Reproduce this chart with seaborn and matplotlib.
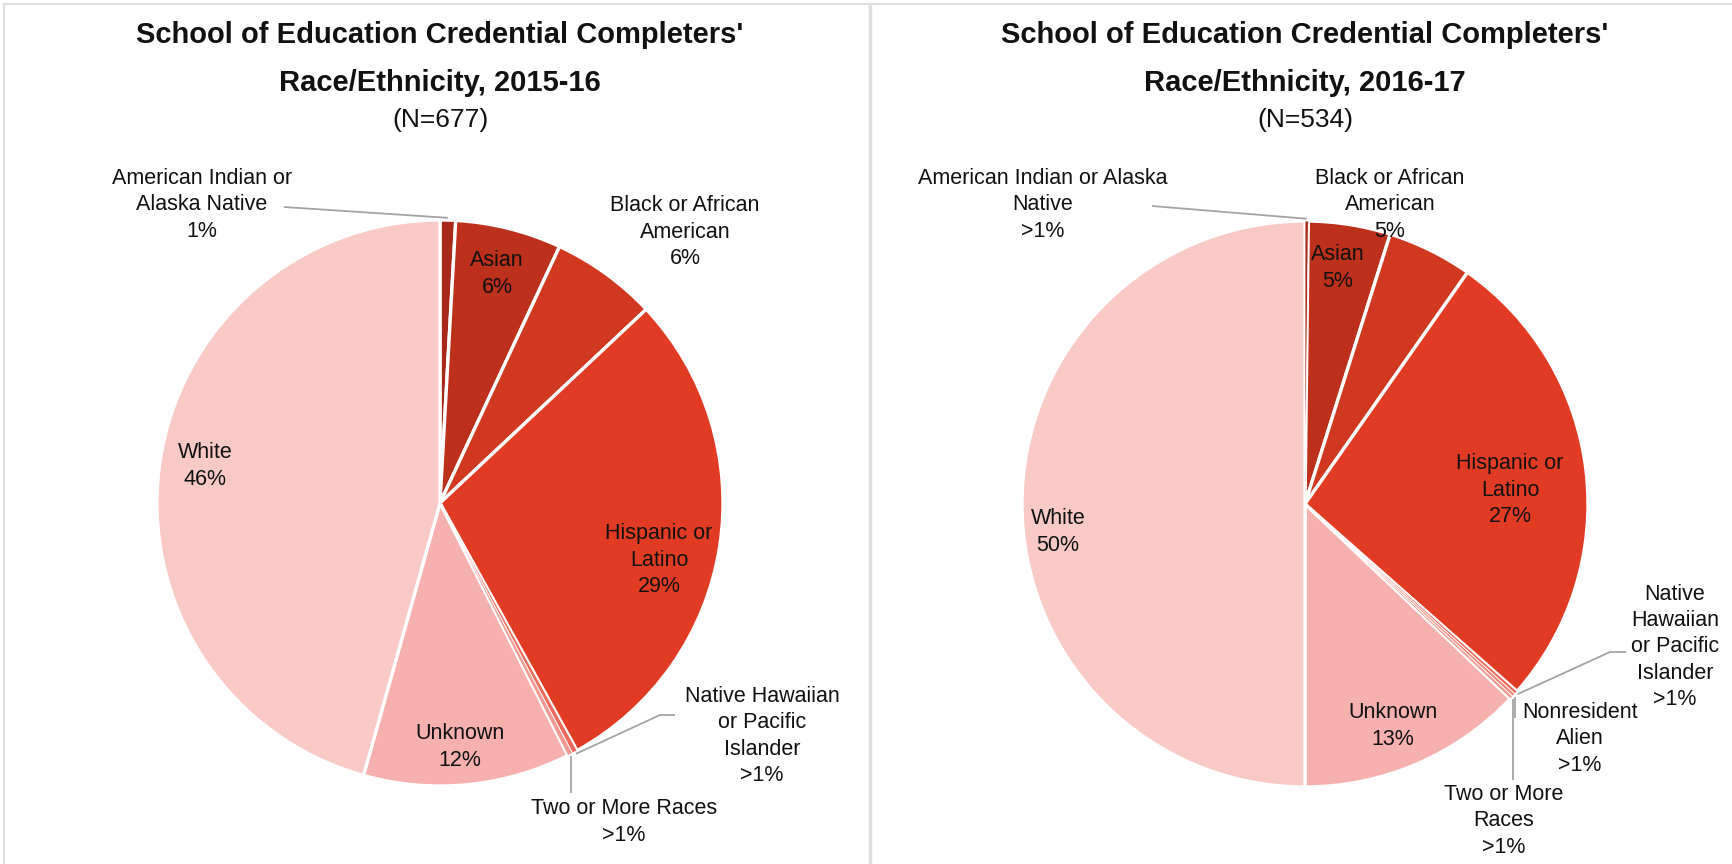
import numpy as np
import matplotlib
matplotlib.use("Agg")
import matplotlib.pyplot as plt
import seaborn as sns

# ---- data -----------------------------------------------------------------
cats_1516 = ["American Indian or Alaska Native", "Asian", "Black or African American",
             "Hispanic or Latino", "Native Hawaiian or Pacific Islander",
             "Two or More Races", "Unknown", "White"]
counts_1516 = [6, 41, 41, 196, 2, 2, 80, 309]

cats_1617 = ["American Indian or Alaska Native", "Asian", "Black or African American",
             "Hispanic or Latino", "Native Hawaiian or Pacific Islander",
             "Nonresident Alien", "Two or More Races", "Unknown", "White"]
counts_1617 = [1, 25, 26, 143, 1, 1, 1, 69, 267]

titles = ["School of Education Credential Completers'\nRace/Ethnicity, 2015-16",
          "School of Education Credential Completers'\nRace/Ethnicity, 2016-17"]

palette = {
    "American Indian or Alaska Native": "#A8291A",
    "Asian": "#BC301C",
    "Black or African American": "#D03820",
    "Hispanic or Latino": "#E13C23",
    "Native Hawaiian or Pacific Islander": "#EE6A5C",
    "Nonresident Alien": "#F08478",
    "Two or More Races": "#F29A92",
    "Unknown": "#F6B1AE",
    "White": "#F8C9C5",
}

# ---- style ----------------------------------------------------------------
sns.set_theme(style="white")
plt.rcParams["font.family"] = ["Liberation Sans", "DejaVu Sans"]

W, H = 1732, 864
fig = plt.figure(figsize=(W / 100, H / 100), dpi=100)
ax = fig.add_axes([0, 0, 1, 1])

TXT = "#111111"
LEAD = "#A3A3A3"
LBL = 15.5


def fy(y):
    """top-based pixel row -> axis y"""
    return H - y


def pct_label(c, n):
    p = int(round(100.0 * c / n))
    return ">1%" if p < 1 else f"{p}%"


def draw_panel(cats, counts, title, cx, cy, r, layout):
    n = sum(counts)
    small = [100.0 * c / n < 0.5 for c in counts]
    wedges, _ = ax.pie(counts, colors=[palette[c] for c in cats], startangle=90,
                       counterclock=False, center=(cx, fy(cy)), radius=r,
                       wedgeprops=dict(edgecolor="white", linewidth=2.4))
    # thin slivers get a lighter outline so their colour stays visible
    for w, s in zip(wedges, small):
        if s:
            w.set_linewidth(0.6)
            w.set_zorder(w.get_zorder() + 0.5)

    # titles
    t1, t2 = title.split("\n")
    ax.text(cx, fy(layout["title"][0]), t1, ha="center", va="center",
            fontsize=21, fontweight="bold", color=TXT)
    ax.text(cx, fy(layout["title"][1]), t2, ha="center", va="center",
            fontsize=21, fontweight="bold", color=TXT)
    ax.text(cx, fy(layout["title"][2]), f"(N={n})", ha="center", va="center",
            fontsize=19, color=TXT)

    for cat, c, w in zip(cats, counts, wedges):
        spec = layout[cat]
        text = spec["text"] + "\n" + pct_label(c, n)
        lx, ly = spec["pos"]
        ax.text(lx, fy(ly), text, ha="center", va="center", fontsize=LBL,
                color=TXT, linespacing=1.32, multialignment="center")
        if "lead" in spec:
            mid = np.deg2rad((w.theta1 + w.theta2) / 2)
            ax_pt = (cx + 1.008 * r * np.cos(mid), fy(cy) + 1.008 * r * np.sin(mid))
            pts = [(px, fy(py)) for px, py in spec["lead"]]
            if spec.get("vertical"):
                pts = [(ax_pt[0], p[1]) for p in pts]
            xs = [p[0] for p in pts] + [ax_pt[0]]
            ys = [p[1] for p in pts] + [ax_pt[1]]
            ax.plot(xs, ys, color=LEAD, lw=1.3, solid_capstyle="butt")


layout_1516 = {
    "title": (35, 83, 120),
    "American Indian or Alaska Native": dict(text="American Indian or\nAlaska Native",
                                             pos=(202, 205), lead=[(284, 207)]),
    "Asian": dict(text="Asian", pos=(497, 274)),
    "Black or African American": dict(text="Black or African\nAmerican", pos=(685, 232)),
    "Hispanic or Latino": dict(text="Hispanic or\nLatino", pos=(659, 560)),
    "Native Hawaiian or Pacific Islander": dict(text="Native Hawaiian\nor Pacific\nIslander",
                                                pos=(762, 736), lead=[(675, 715), (660, 715)]),
    "Two or More Races": dict(text="Two or More Races", pos=(624, 822),
                              lead=[(571, 793)], vertical=True),
    "Unknown": dict(text="Unknown", pos=(460, 747)),
    "White": dict(text="White", pos=(205, 466)),
}

layout_1617 = {
    "title": (35, 83, 120),
    "American Indian or Alaska Native": dict(text="American Indian or Alaska\nNative",
                                             pos=(1043, 205), lead=[(1152, 206)]),
    "Asian": dict(text="Asian", pos=(1338, 268)),
    "Black or African American": dict(text="Black or African\nAmerican", pos=(1390, 205)),
    "Hispanic or Latino": dict(text="Hispanic or\nLatino", pos=(1510, 490)),
    "Native Hawaiian or Pacific Islander": dict(text="Native\nHawaiian\nor Pacific\nIslander",
                                                pos=(1675, 647),
                                                lead=[(1626, 652), (1610, 652)]),
    "Nonresident Alien": dict(text="Nonresident\nAlien", pos=(1580, 739),
                              lead=[(1516, 718)], vertical=True),
    "Two or More Races": dict(text="Two or More\nRaces", pos=(1504, 821),
                              lead=[(1512, 780)], vertical=True),
    "Unknown": dict(text="Unknown", pos=(1393, 726)),
    "White": dict(text="White", pos=(1058, 532)),
}

draw_panel(cats_1516, counts_1516, titles[0], 440, 503, 283, layout_1516)
draw_panel(cats_1617, counts_1617, titles[1], 1305, 504, 283, layout_1617)

# chart frames
BORDER = "#DEDEDE"
ax.plot([4, W], [fy(4), fy(4)], color=BORDER, lw=1.5)
ax.plot([4, 4], [fy(4), 0], color=BORDER, lw=1.5)
ax.plot([870, 870], [fy(4), 0], color=BORDER, lw=2.5)

ax.set_xlim(0, W)
ax.set_ylim(0, H)
ax.set_aspect("equal", adjustable="datalim")
ax.set_axis_off()

fig.savefig("out.png", dpi=100, facecolor="white")
